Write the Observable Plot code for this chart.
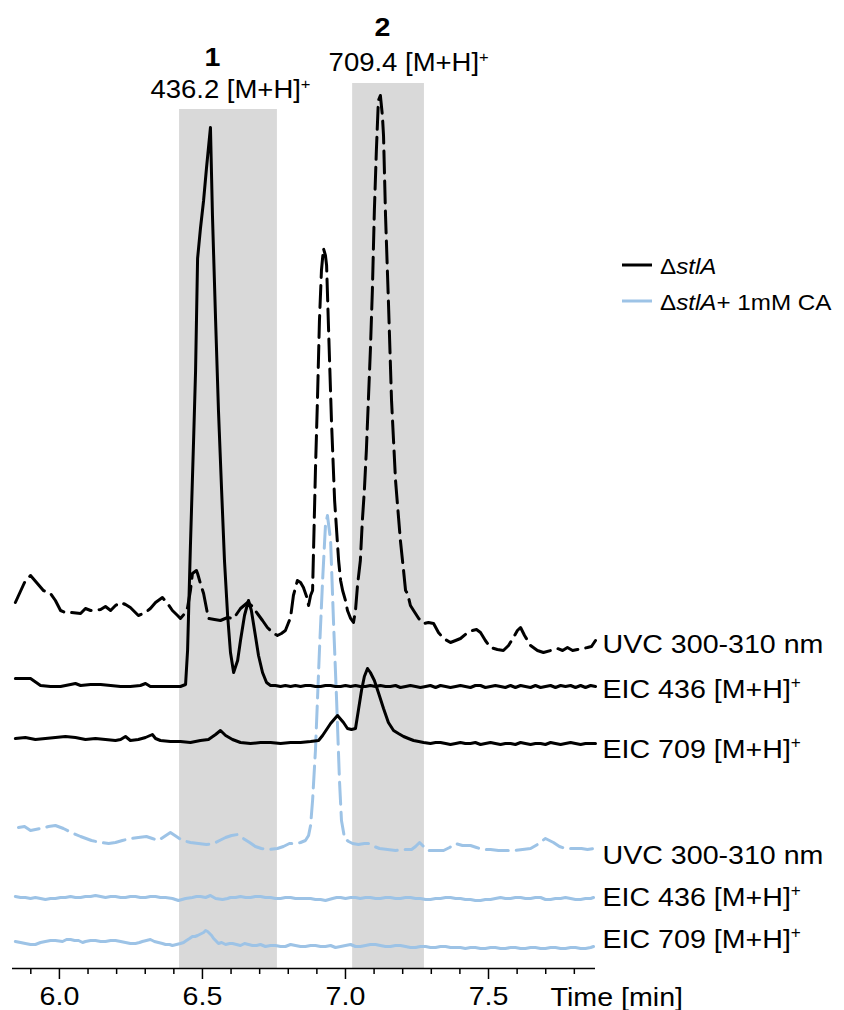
<!DOCTYPE html>
<html><head><meta charset="utf-8">
<script src="https://cdn.jsdelivr.net/npm/d3@7"></script>
<script src="https://cdn.jsdelivr.net/npm/@observablehq/plot@0.6"></script>
<style>body{margin:0;background:#fff;} svg{display:block}</style>
</head><body><div id="chart"></div>
<script>
// ---- data: [time (min), intensity (a.u.)] ----
const kUVC = [[5.846,48],[5.878,68],[5.899,75],[5.920,68],[5.944,60],[5.969,57],[5.986,50],[6.004,40],[6.021,38],[6.039,38],[6.074,37],[6.091,42],[6.109,40],[6.144,41],[6.161,44],[6.179,40],[6.196,45],[6.214,48],[6.231,46],[6.248,43],[6.276,35],[6.301,38],[6.318,42],[6.336,48],[6.360,53],[6.378,47],[6.395,40],[6.413,35],[6.423,32],[6.441,38],[6.448,43],[6.458,60],[6.465,77],[6.479,80],[6.483,77],[6.493,67],[6.504,57],[6.521,32],[6.542,31],[6.563,30],[6.588,33],[6.609,32],[6.633,42],[6.658,48],[6.675,44],[6.692,37],[6.710,30],[6.727,23],[6.745,18],[6.762,15],[6.776,17],[6.790,20],[6.801,28],[6.808,33],[6.818,55],[6.832,70],[6.843,68],[6.853,63],[6.864,54],[6.871,45],[6.878,55],[6.885,60],[6.895,180],[6.902,250],[6.909,330],[6.916,380],[6.923,402],[6.930,395],[6.934,385],[6.941,320],[6.951,230],[6.962,150],[6.976,90],[6.983,70],[6.990,60],[7.000,50],[7.007,40],[7.018,32],[7.028,28],[7.035,40],[7.042,65],[7.052,90],[7.059,130],[7.066,160],[7.073,200],[7.080,250],[7.087,300],[7.094,360],[7.101,440],[7.108,500],[7.115,550],[7.122,555],[7.129,535],[7.133,515],[7.140,435],[7.150,350],[7.161,250],[7.168,210],[7.175,170],[7.192,110],[7.203,80],[7.210,60],[7.217,57],[7.227,45],[7.238,40],[7.256,32],[7.273,27],[7.290,28],[7.308,27],[7.325,18],[7.343,12],[7.367,8],[7.385,10],[7.402,12],[7.423,17],[7.444,20],[7.458,21],[7.472,18],[7.489,10],[7.507,3],[7.531,1],[7.552,0],[7.570,5],[7.587,13],[7.601,20],[7.612,23],[7.626,15],[7.647,5],[7.671,0],[7.692,-2],[7.717,0],[7.741,2],[7.759,0],[7.776,3],[7.794,0],[7.811,1],[7.829,2],[7.846,3],[7.860,4],[7.874,10]];
const kEIC436 = [[5.846,8],[5.899,8],[5.934,1],[5.969,0],[6.004,0],[6.039,2],[6.056,3],[6.074,1],[6.109,2],[6.144,2],[6.179,1],[6.214,0],[6.248,0],[6.283,1],[6.301,3],[6.318,0],[6.353,0],[6.388,0],[6.423,0],[6.441,2],[6.448,36],[6.458,141],[6.469,246],[6.476,316],[6.483,428],[6.493,458],[6.504,486],[6.514,518],[6.528,559],[6.535,471],[6.546,366],[6.556,276],[6.567,196],[6.577,126],[6.588,71],[6.598,34],[6.609,14],[6.623,26],[6.633,46],[6.647,71],[6.661,86],[6.671,76],[6.685,51],[6.696,31],[6.710,14],[6.724,4],[6.738,1],[6.755,1],[6.773,0],[6.790,1],[6.808,0],[6.825,1],[6.843,0],[6.860,1],[6.878,1],[6.895,0],[6.913,0],[6.930,1],[6.948,1],[6.965,0],[6.983,0],[7.000,1],[7.018,0],[7.035,1],[7.052,0],[7.070,0],[7.087,1],[7.105,0],[7.122,1],[7.140,0],[7.157,0],[7.175,1],[7.192,-1],[7.210,0],[7.227,1],[7.245,0],[7.262,-1],[7.280,0],[7.297,1],[7.315,-1],[7.332,1],[7.350,0],[7.367,-1],[7.385,0],[7.402,1],[7.419,0],[7.437,-1],[7.454,1],[7.472,1],[7.489,-1],[7.507,0],[7.524,1],[7.542,0],[7.559,-1],[7.577,1],[7.594,-1],[7.612,1],[7.629,0],[7.647,-1],[7.664,1],[7.682,-1],[7.699,0],[7.717,1],[7.734,-1],[7.752,1],[7.769,0],[7.787,1],[7.804,-1],[7.822,1],[7.839,-1],[7.857,1],[7.874,0]];
const kEIC709 = [[5.846,5],[5.881,6],[5.916,4],[5.951,5],[5.986,6],[6.021,7],[6.056,6],[6.091,4],[6.126,5],[6.161,4],[6.196,3],[6.214,4],[6.231,7],[6.248,3],[6.276,4],[6.301,6],[6.325,9],[6.336,5],[6.353,3],[6.388,2],[6.423,2],[6.458,1],[6.493,3],[6.521,4],[6.546,9],[6.563,13],[6.581,8],[6.605,4],[6.633,1],[6.668,0],[6.703,1],[6.738,1],[6.773,0],[6.808,1],[6.843,1],[6.878,2],[6.906,3],[6.920,8],[6.948,20],[6.972,28],[6.993,21],[7.007,15],[7.021,14],[7.035,15],[7.045,33],[7.056,53],[7.066,67],[7.077,75],[7.087,71],[7.101,63],[7.115,51],[7.133,35],[7.150,21],[7.168,13],[7.185,10],[7.203,7],[7.220,5],[7.238,3],[7.256,2],[7.273,1],[7.297,0],[7.315,1],[7.332,1],[7.350,0],[7.367,-1],[7.385,0],[7.402,1],[7.419,0],[7.437,0],[7.454,1],[7.472,-1],[7.489,0],[7.507,1],[7.524,0],[7.542,-1],[7.559,0],[7.577,0],[7.594,-1],[7.612,1],[7.629,0],[7.647,-1],[7.664,0],[7.682,0],[7.699,-1],[7.717,1],[7.734,0],[7.752,-1],[7.769,0],[7.787,1],[7.804,0],[7.822,-1],[7.839,0],[7.857,0],[7.874,0]];
const bUVC = [[5.857,23],[5.878,24],[5.899,20],[5.934,22],[5.962,24],[5.986,25],[6.014,22],[6.042,18],[6.074,14],[6.112,10],[6.144,8],[6.172,7],[6.196,8],[6.220,10],[6.248,12],[6.276,13],[6.304,14],[6.325,12],[6.346,10],[6.367,14],[6.388,18],[6.409,14],[6.430,10],[6.458,8],[6.486,7],[6.514,6],[6.539,7],[6.560,10],[6.581,13],[6.602,15],[6.623,16],[6.643,12],[6.665,8],[6.685,4],[6.706,2],[6.734,1],[6.762,2],[6.783,4],[6.804,7],[6.825,7],[6.843,8],[6.860,10],[6.871,15],[6.878,25],[6.885,50],[6.895,100],[6.909,200],[6.920,270],[6.930,325],[6.937,335],[6.948,310],[6.958,230],[6.969,150],[6.979,70],[6.986,30],[6.997,12],[7.011,9],[7.025,7],[7.045,6],[7.066,7],[7.080,7],[7.101,4],[7.119,2],[7.147,1],[7.175,0],[7.203,1],[7.231,1],[7.245,4],[7.259,8],[7.273,4],[7.287,0],[7.315,0],[7.343,0],[7.364,3],[7.385,7],[7.409,5],[7.437,5],[7.458,3],[7.479,1],[7.507,1],[7.535,0],[7.563,0],[7.591,0],[7.619,1],[7.647,2],[7.671,6],[7.689,10],[7.699,12],[7.713,10],[7.727,8],[7.748,4],[7.769,2],[7.797,2],[7.825,2],[7.846,1],[7.867,2]];
const bEIC436 = [[5.846,4],[5.864,3],[5.881,3],[5.899,2],[5.916,3],[5.934,2],[5.951,1],[5.969,2],[5.986,2],[6.004,3],[6.021,3],[6.039,4],[6.056,3],[6.074,3],[6.091,4],[6.109,4],[6.126,5],[6.144,4],[6.161,3],[6.179,4],[6.196,4],[6.214,3],[6.231,3],[6.248,4],[6.266,4],[6.283,3],[6.301,3],[6.318,4],[6.336,4],[6.353,3],[6.371,3],[6.395,2],[6.416,0],[6.441,2],[6.465,3],[6.479,4],[6.493,4],[6.511,3],[6.528,5],[6.546,2],[6.570,1],[6.588,2],[6.598,3],[6.616,3],[6.633,4],[6.651,3],[6.668,3],[6.685,4],[6.703,4],[6.720,3],[6.738,3],[6.755,2],[6.773,2],[6.790,3],[6.808,3],[6.825,2],[6.843,2],[6.860,2],[6.878,2],[6.895,1],[6.913,1],[6.930,0],[6.955,2],[6.969,3],[6.983,3],[7.000,2],[7.018,3],[7.035,3],[7.052,2],[7.070,3],[7.087,3],[7.105,2],[7.122,2],[7.140,3],[7.157,3],[7.175,2],[7.192,2],[7.210,3],[7.227,3],[7.245,2],[7.262,2],[7.280,1],[7.297,1],[7.315,2],[7.332,2],[7.350,3],[7.367,3],[7.385,2],[7.402,2],[7.419,1],[7.437,1],[7.454,0],[7.472,0],[7.489,1],[7.507,1],[7.524,2],[7.542,3],[7.559,2],[7.577,2],[7.594,3],[7.612,3],[7.629,2],[7.647,2],[7.664,3],[7.682,3],[7.699,1],[7.717,1],[7.734,2],[7.752,2],[7.769,3],[7.787,2],[7.804,1],[7.822,1],[7.839,2],[7.857,2],[7.867,3]];
const bEIC709 = [[5.846,7],[5.864,6],[5.881,5],[5.899,4],[5.916,4],[5.934,6],[5.951,7],[5.969,8],[5.986,8],[6.011,7],[6.025,9],[6.039,9],[6.053,8],[6.067,8],[6.081,6],[6.091,7],[6.109,8],[6.126,8],[6.144,7],[6.161,7],[6.179,8],[6.196,8],[6.214,7],[6.231,6],[6.248,5],[6.266,5],[6.280,6],[6.290,7],[6.304,8],[6.318,9],[6.332,7],[6.346,6],[6.360,5],[6.371,4],[6.385,4],[6.395,3],[6.409,4],[6.423,5],[6.434,6],[6.444,8],[6.455,10],[6.465,12],[6.474,12],[6.483,13],[6.490,14],[6.497,15],[6.504,16],[6.511,18],[6.518,17],[6.525,15],[6.532,13],[6.539,10],[6.546,8],[6.556,5],[6.567,6],[6.581,4],[6.595,5],[6.605,5],[6.619,4],[6.633,3],[6.647,5],[6.661,4],[6.675,3],[6.689,3],[6.703,4],[6.720,2],[6.738,3],[6.755,3],[6.773,2],[6.790,2],[6.808,4],[6.825,3],[6.843,2],[6.860,2],[6.878,3],[6.895,3],[6.913,2],[6.930,2],[6.948,3],[6.965,1],[6.983,2],[7.000,3],[7.018,4],[7.035,2],[7.052,2],[7.070,3],[7.087,4],[7.105,4],[7.122,3],[7.140,2],[7.157,2],[7.175,3],[7.192,3],[7.210,2],[7.227,1],[7.245,1],[7.262,2],[7.280,2],[7.297,1],[7.315,1],[7.332,2],[7.350,2],[7.367,1],[7.385,1],[7.402,1],[7.419,0],[7.437,1],[7.454,1],[7.472,0],[7.489,0],[7.507,1],[7.524,1],[7.542,0],[7.559,0],[7.577,1],[7.594,1],[7.612,0],[7.629,0],[7.647,1],[7.664,1],[7.682,0],[7.699,0],[7.717,1],[7.734,1],[7.752,0],[7.769,0],[7.787,1],[7.804,1],[7.822,0],[7.839,0],[7.857,1],[7.867,2]];

const traceNames = ["UVC 300-310 nm", "EIC 436 [M+H]+", "EIC 709 [M+H]+"];
const sampleNames = ["\u0394stlA", "\u0394stlA+ 1mM CA"];
const majorTicks = [6.0, 6.5, 7.0, 7.5];
const minorTicks = [5.9, 6.1, 6.2, 6.3, 6.4, 6.6, 6.7, 6.8, 6.9, 7.1, 7.2, 7.3, 7.4, 7.6, 7.7, 7.8];
const bandStart = [6.42, 7.025];
const bandEnd = [6.762, 7.276];
const compoundIds = ["1", "2"];
const compoundMasses = ["436.2 [M+H]+", "709.4 [M+H]+"];

// ---- layout (stack offsets, label placement) ----
const FONT = "'Liberation Sans', Arial, Helvetica, sans-serif";
const BLACK = "#000000", BLUE = "#9dc3e6";
const traces = [
  {data: bUVC,    offset: 118, color: BLUE,  dashed: true},
  {data: bEIC436, offset: 68,  color: BLUE,  dashed: false},
  {data: bEIC709, offset: 20,  color: BLUE,  dashed: false},
  {data: kUVC,    offset: 318, color: BLACK, dashed: true},
  {data: kEIC436, offset: 282, color: BLACK, dashed: false},
  {data: kEIC709, offset: 225, color: BLACK, dashed: false}
];
const labels = [
  {text: traceNames[0], y: 316}, {text: traceNames[1], y: 271}, {text: traceNames[2], y: 211},
  {text: traceNames[0], y: 105}, {text: traceNames[1], y: 63},  {text: traceNames[2], y: 21}
];
const bands = bandStart.map((s, i) => ({start: s, end: bandEnd[i], top: [859, 885][i]}));
const ids = [{text: compoundIds[0], x: 6.535, y: 903}, {text: compoundIds[1], x: 7.129, y: 933}];
const masses = [{text: compoundMasses[0], x: 6.318, y: 871}, {text: compoundMasses[1], x: 6.941, y: 898}];

const marks = [
  Plot.rect(bands, {x1: "start", x2: "end", y1: 0, y2: "top", fill: "#d9d9d9"}),
  ...traces.map(tr => Plot.line(tr.data, {
    x: d => d[0], y: d => d[1] + tr.offset, stroke: tr.color, strokeWidth: 3,
    strokeDasharray: tr.dashed ? "22,8" : null, strokeLinejoin: "round", curve: "linear"
  })),
  Plot.ruleY([0], {stroke: "#000", strokeWidth: 1.5}),
  Plot.axisX({ticks: minorTicks, tickSize: 6, tickFormat: () => "", strokeWidth: 1.5, label: null}),
  Plot.axisX({ticks: majorTicks, tickSize: 11, tickPadding: 7, tickFormat: d3.format(".1f"), strokeWidth: 1.5, fontSize: 26, label: null}),
  Plot.text(["Time [min]"], {x: 7.717, y: -37, text: d => d, textAnchor: "start", lineAnchor: "bottom", fontSize: 26}),
  Plot.text(labels, {x: 7.874, y: "y", text: "text", dx: 7, textAnchor: "start", lineAnchor: "bottom", fontSize: 26}),
  Plot.text(ids, {x: "x", y: "y", text: "text", textAnchor: "middle", lineAnchor: "bottom", fontSize: 26, fontWeight: "bold"}),
  Plot.text(masses, {x: "x", y: "y", text: "text", textAnchor: "start", lineAnchor: "bottom", fontSize: 25})
];

const svg = Plot.plot({
  width: 844, height: 1010,
  marginTop: 0, marginBottom: 42, marginLeft: 12, marginRight: 249,
  x: {domain: [5.836, 7.874], range: [12, 595]},
  y: {domain: [0, 968], range: [968, 0], axis: null},
  style: {fontFamily: FONT, fontSize: "26px", background: "white", color: "black", overflow: "visible"},
  marks
});

// tick labels: font size; superscripts; slight horizontal text stretch
const NS = "http://www.w3.org/2000/svg";
svg.querySelectorAll("text").forEach(t => {
  const s = t.textContent;
  if (/^\d\.\d$/.test(s)) {
    t.style.fontSize = "26px";
    t.setAttribute("font-size", 26);
    if (t.parentNode) { t.parentNode.style.fontSize = "26px"; t.parentNode.setAttribute("font-size", 26); }
  }
  if (s.endsWith("]+")) {
    t.textContent = s.slice(0, -1);
    const sup = document.createElementNS(NS, "tspan");
    sup.setAttribute("font-size", "60%");
    sup.setAttribute("dy", "-0.6em");
    sup.textContent = "+";
    t.appendChild(sup);
  }
  const tr = t.getAttribute("transform") || "";
  t.setAttribute("transform", tr + " scale(1.1,1)");
});

// legend
const lg = d3.select(svg).append("g").attr("font-family", FONT).attr("font-size", 22)
  .attr("fill", "#000").attr("text-anchor", "start");
const legendColors = [BLACK, BLUE];
const legendY = [265, 301];
sampleNames.forEach((name, i) => {
  lg.append("line").attr("x1", 622).attr("x2", 652).attr("y1", legendY[i]).attr("y2", legendY[i])
    .attr("stroke", legendColors[i]).attr("stroke-width", 3);
  const tx = lg.append("text").attr("text-anchor", "start")
    .attr("transform", `translate(660,${legendY[i] + 9}) scale(1.1,1)`);
  tx.append("tspan").text(name.slice(0, 1));
  tx.append("tspan").attr("font-style", "italic").text(name.slice(1, 5));
  if (name.length > 5) tx.append("tspan").text(name.slice(5));
});

document.getElementById("chart").appendChild(svg);
</script>
</body></html>
